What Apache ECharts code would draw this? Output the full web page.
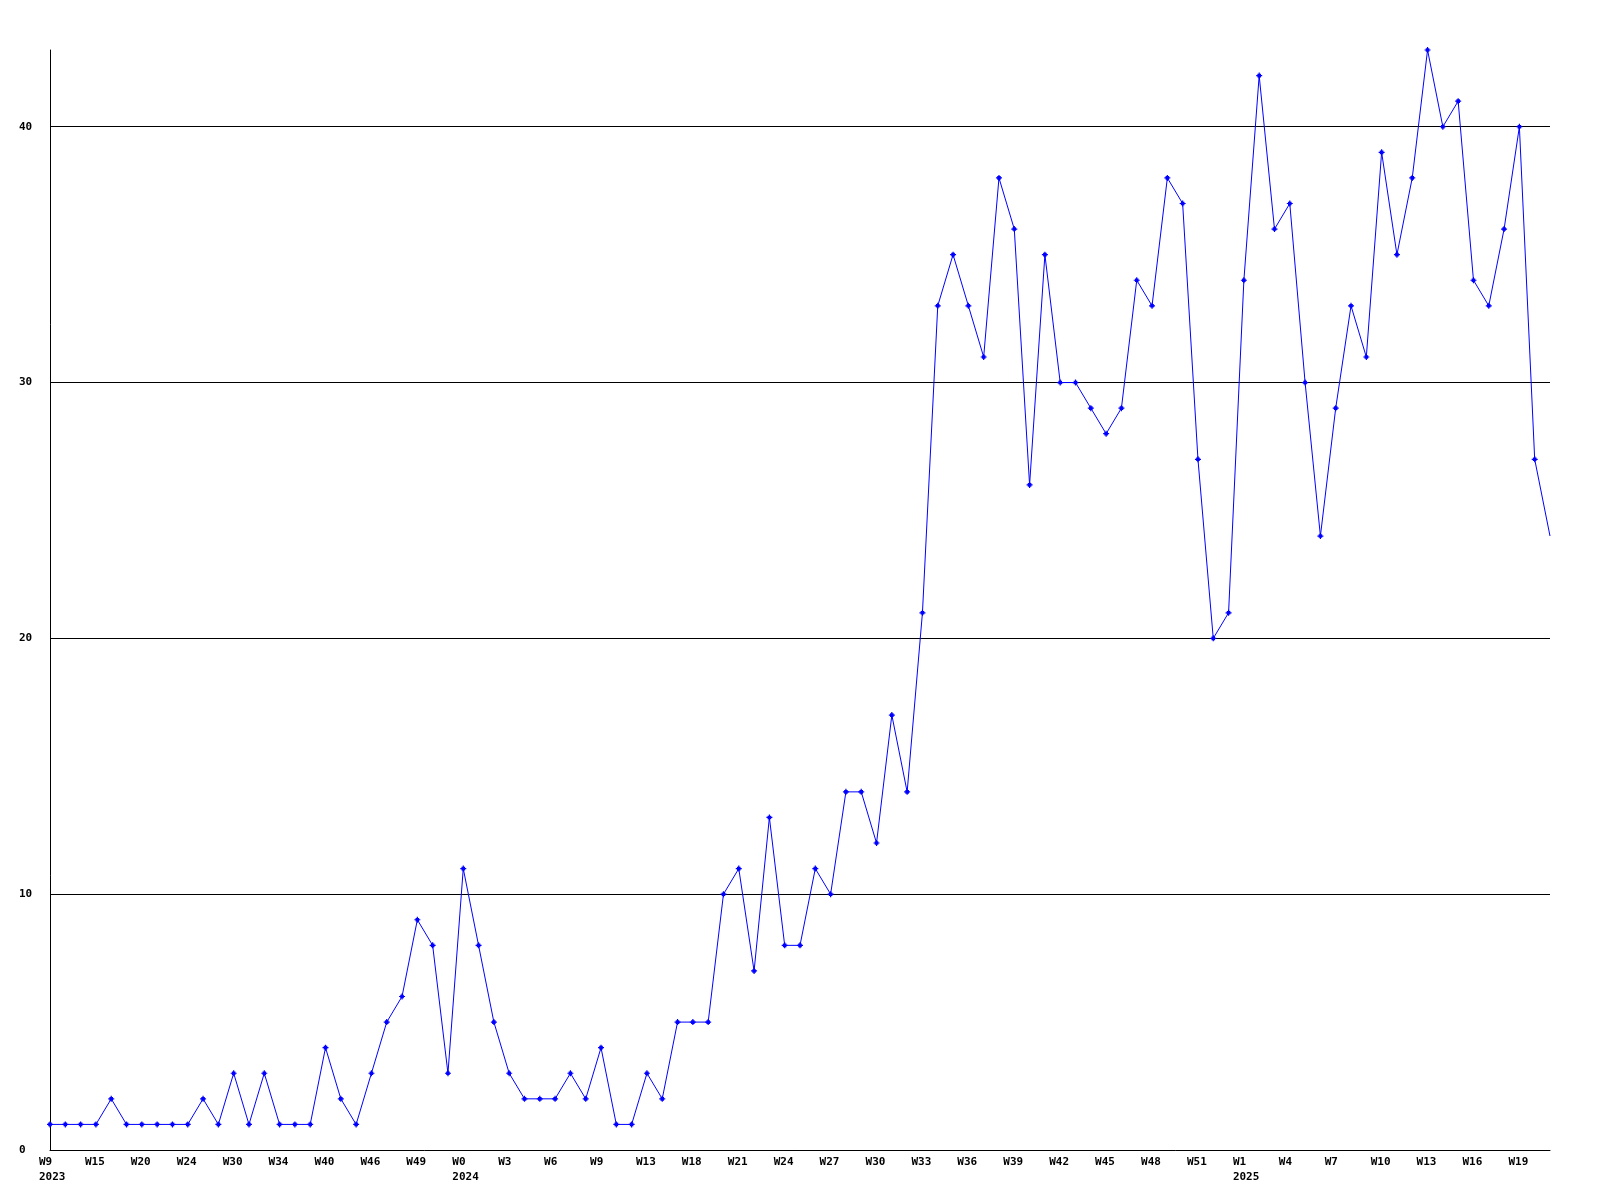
<!DOCTYPE html>
<html>
<head>
<meta charset="utf-8">
<script src="https://cdn.jsdelivr.net/npm/echarts@6/dist/echarts.min.js"></script>
<style>
  html, body { margin: 0; padding: 0; background: #ffffff; }
  #chart { width: 1600px; height: 1200px; }
</style>
</head>
<body>
<div id="chart"></div>
<script>
// Tick labels shown on every third point
const tickLabels = ['W9','W15','W20','W24','W30','W34','W40','W46','W49','W0','W3','W6','W9','W13','W18','W21','W24','W27','W30','W33','W36','W39','W42','W45','W48','W51','W1','W4','W7','W10','W13','W16','W19'];
const tickYears  = ['2023','','','','','','','','','2024','','','','','','','','','','','','','','','','','2025','','','','','',''];

// Weekly values (99 points)
const values = [
  1,1,1,1,2,1,1,1,1,1,
  2,1,3,1,3,1,1,1,4,2,
  1,3,5,6,9,8,3,11,8,5,
  3,2,2,2,3,2,4,1,1,3,
  2,5,5,5,10,11,7,13,8,8,
  11,10,14,14,12,17,14,21,33,35,
  33,31,38,36,26,35,30,30,29,28,
  29,34,33,38,37,27,20,21,34,42,
  36,37,30,24,29,33,31,39,35,38,
  43,40,41,34,33,36,40,27,24
];

const categories = values.map((v, i) => String(i));
const labelEvery = 3;

const font = '"DejaVu Sans Mono", "Liberation Mono", monospace';

const seriesData = values.map((v, i) => (i === values.length - 1 ? { value: v, symbol: 'none' } : v));

const chart = echarts.init(document.getElementById('chart'), null, { renderer: 'canvas' });
chart.setOption({
  backgroundColor: '#ffffff',
  animation: false,
  grid: { left: 50, right: 50, top: 50, bottom: 50, containLabel: false },
  xAxis: {
    type: 'category',
    data: categories,
    boundaryGap: false,
    axisLine: { show: true, lineStyle: { color: '#000000', width: 1 } },
    axisTick: { show: false },
    splitLine: { show: false },
    axisLabel: {
      interval: labelEvery - 1,
      margin: 5,
      color: '#000000',
      fontFamily: font,
      fontWeight: 'bold',
      fontSize: 11,
      lineHeight: 15,
      align: 'center',
      verticalAlign: 'top',
      rich: {
        t: {
          width: 22,
          align: 'left',
          color: '#000000',
          fontFamily: font,
          fontWeight: 'bold',
          fontSize: 11,
          lineHeight: 15
        }
      },
      formatter: function (val, idx) {
        const k = Math.round(idx / labelEvery);
        const w = tickLabels[k] || '';
        const y = tickYears[k] || '';
        return y ? '{t|' + w + '}\n{t|' + y + '}' : '{t|' + w + '}';
      }
    }
  },
  yAxis: {
    type: 'value',
    min: 0,
    max: 43,
    interval: 10,
    axisLine: { show: true, lineStyle: { color: '#000000', width: 1 } },
    axisTick: { show: false },
    splitLine: { show: true, showMaxLine: false, showMinLine: false, lineStyle: { color: '#000000', width: 1 } },
    axisLabel: {
      showMaxLabel: false,
      align: 'left',
      margin: 31,
      color: '#000000',
      fontFamily: font,
      fontWeight: 'bold',
      fontSize: 11
    }
  },
  series: [{
    type: 'line',
    data: seriesData,
    symbol: 'path://M2,0H3V1H4V2H5V3H4V4H3V5H2V4H1V3H0V2H1V1H2Z',
    symbolSize: 6,
    showAllSymbol: true,
    lineStyle: { color: '#0000ff', width: 1 },
    itemStyle: { color: '#0000ff' },
    emphasis: { disabled: true }
  }]
});
</script>
</body>
</html>
